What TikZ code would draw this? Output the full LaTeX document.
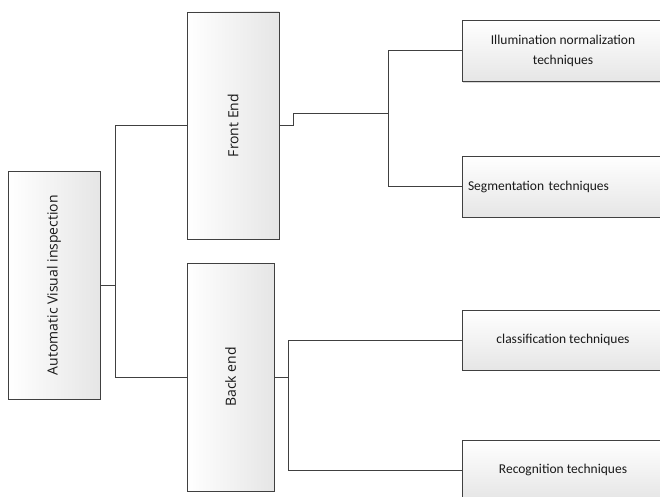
\documentclass[tikz,border=0pt]{standalone}
\usepackage{fontspec}
\setmainfont{Carlito}
\newfontfamily\boxfont{Open Sans}
\usetikzlibrary{calc}
\usetikzlibrary{positioning}
\usetikzlibrary{shadows}

\tikzset{
    lvl/.style={draw=black!75, line width=0.9pt, minimum width=92pt, minimum height=228pt,
        left color=white, right color=black!10, inner sep=0pt,
        drop shadow={shadow xshift=1.2pt, shadow yshift=-1.2pt, opacity=0.25, fill=black!60},
        font=\boxfont\fontsize{14}{16}\selectfont, text=black!90},
    leaf/.style={draw=black!75, line width=0.9pt, minimum width=202pt, minimum height=61pt,
        top color=white, bottom color=black!10, inner sep=0pt, align=center,
        drop shadow={shadow xshift=1.2pt, shadow yshift=-1.2pt, opacity=0.25, fill=black!60},
        font=\fontsize{13.5}{20}\selectfont, text=black!90},
    link/.style={draw=black!75, line width=1pt}
}

\begin{document}
\begin{tikzpicture}[x=1pt, y=-1pt]
            \fill[white] (0,0) rectangle (660,497);
            \useasboundingbox (0,0) rectangle (660,497);
            \clip (0,0) rectangle (660,497);

            \begin{scope}
                \node[lvl, minimum height=228pt] (avi) at (54,285) {\rotatebox{90}{Automatic Visual inspection}};
                \node[lvl, minimum height=227pt] (front) at (233,125.5) {\rotatebox{90}{Front End}};
                \node[lvl, minimum width=87pt] (back) at (230.5,377) {\rotatebox{90}{Back end}};
                \node[leaf] (illum) at (563,51) {Illumination normalization\\techniques};
                \node[leaf, text width=190pt, align=left] (seg) at (563,186.5) {Segmentation techniques};
                \node[leaf, minimum height=60pt] (cls) at (563,340) {classification techniques};
                \node[leaf, minimum height=60pt] (rec) at (563,470) {Recognition techniques};
            \end{scope}

            \coordinate (frontjog) at (293,114);
            \coordinate (frontbus) at (388,114);
            \coordinate (backbus) at (288,377);

            \begin{scope}[every path/.style={link}]
                \draw (avi.east) -- ++(15,0) |- (front.west);
                \draw (avi.east) -- ++(15,0) |- (back.west);
                \draw (front.east) -| (frontjog) -- (frontbus) |- (illum.west);
                \draw (frontbus) |- (seg.west);
                \draw (back.east) -- (backbus) |- (cls.west);
                \draw (backbus) |- (rec.west);
            \end{scope}
        \end{tikzpicture}
\end{document}
